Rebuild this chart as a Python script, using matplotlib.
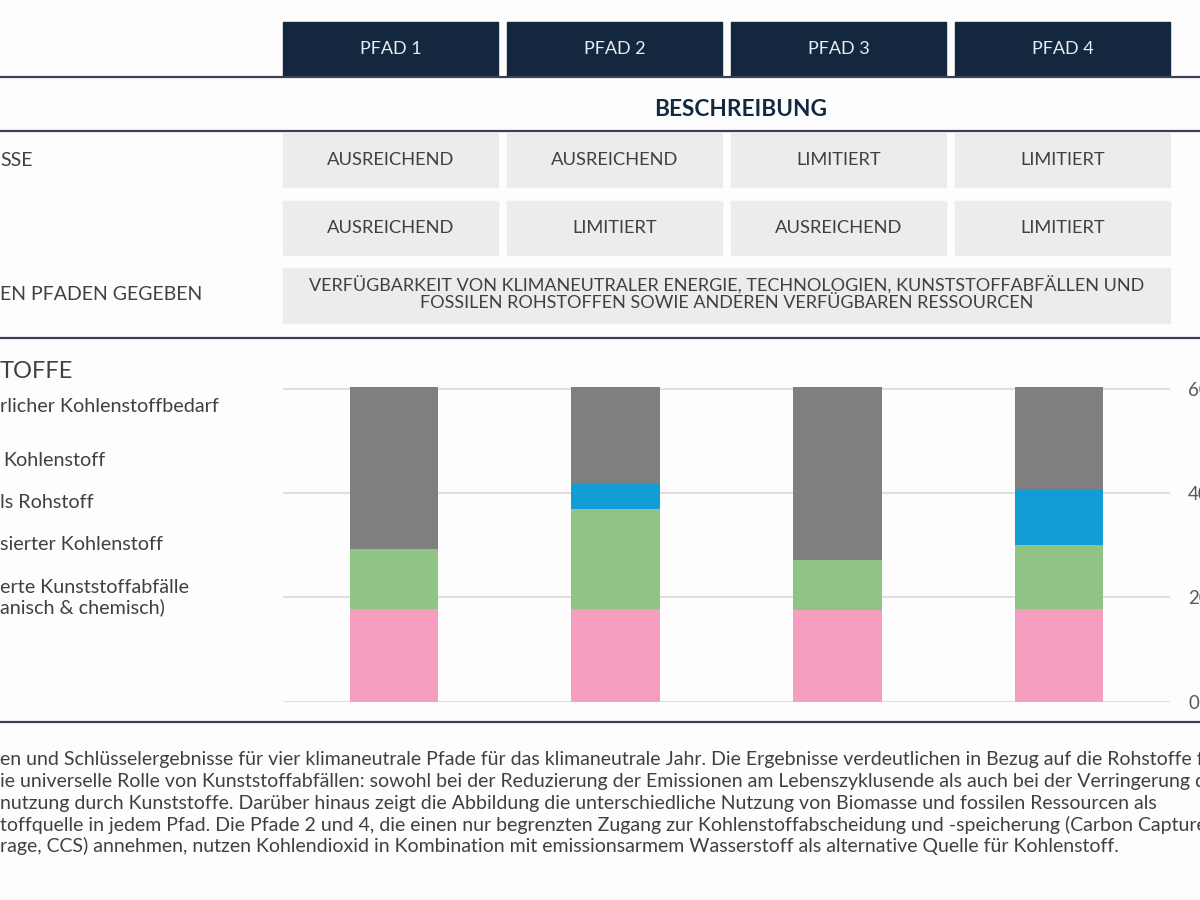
import matplotlib
matplotlib.use('Agg')
import matplotlib.pyplot as plt
from matplotlib.patches import Rectangle

plt.rcParams['font.family'] = ['Lato', 'DejaVu Sans']

# daten
pfade = ['PFAD 1', 'PFAD 2', 'PFAD 3', 'PFAD 4']
zeile1 = ['AUSREICHEND', 'AUSREICHEND', 'LIMITIERT', 'LIMITIERT']
zeile2 = ['AUSREICHEND', 'LIMITIERT', 'AUSREICHEND', 'LIMITIERT']
zeile3 = 'VERFÜGBARKEIT VON KLIMANEUTRALER ENERGIE, TECHNOLOGIEN, KUNSTSTOFFABFÄLLEN UND\nFOSSILEN ROHSTOFFEN SOWIE ANDEREN VERFÜGBAREN RESSOURCEN'
links_oben = ['SSE', '', 'EN PFADEN GEGEBEN']
links_chart = ['rlicher Kohlenstoffbedarf', 'Kohlenstoff', 'ls Rohstoff',
               'sierter Kohlenstoff', 'erte Kunststoffabfälle\nanisch & chemisch)']
rezykliert = [17.7, 17.85, 17.6, 17.85]
biomasse = [11.6, 19.15, 9.5, 12.25]
co2 = [0, 4.8, 0, 10.7]
fossil = [31.1, 18.6, 33.3, 19.6]
yticks = [0, 20, 40, 60]
absatz = [
    'en und Schlüsselergebnisse für vier klimaneutrale Pfade für das klimaneutrale Jahr. Die Ergebnisse verdeutlichen in Bezug auf die Rohstoffe für',
    'ie universelle Rolle von Kunststoffabfällen: sowohl bei der Reduzierung der Emissionen am Lebenszyklusende als auch bei der Verringerung der',
    'nutzung durch Kunststoffe. Darüber hinaus zeigt die Abbildung die unterschiedliche Nutzung von Biomasse und fossilen Ressourcen als',
    'toffquelle in jedem Pfad. Die Pfade 2 und 4, die einen nur begrenzten Zugang zur Kohlenstoffabscheidung und -speicherung (Carbon Capture',
    'rage, CCS) annehmen, nutzen Kohlendioxid in Kombination mit emissionsarmem Wasserstoff als alternative Quelle für Kohlenstoff.',
]

navy = '#13283f'
hellgrau = '#ececec'
textfarbe = '#404040'
linie = '#3a4350'

fig = plt.figure(figsize=(12, 9), dpi=100, facecolor='#fdfdfd')
bg = fig.add_axes([0, 0, 1, 1])
bg.set_xlim(0, 1200)
bg.set_ylim(900, 0)
bg.axis('off')

spalten_x = [283, 507, 731, 955]
breite = 215

# kopfzeile
for x, name in zip(spalten_x, pfade):
    bg.add_patch(Rectangle((x, 22), breite, 54, color=navy))
    bg.text(x + breite / 2, 49, name, color='#e8ecf0', fontsize=13, ha='center', va='center')

for y in [77, 131, 338, 722]:
    bg.plot([0, 1200], [y, y], color=linie, lw=1.6)

bg.text(741, 109, 'BESCHREIBUNG', color=navy, fontsize=16.3, fontweight='bold',
        ha='center', va='center')

# beschreibungszeilen
for zeile, y in [(zeile1, 133), (zeile2, 201)]:
    for x, t in zip(spalten_x, zeile):
        bg.add_patch(Rectangle((x, y), breite, 54, color=hellgrau))
        bg.text(x + breite / 2, y + 27, t, color=textfarbe, fontsize=13.2, ha='center', va='center')

bg.add_patch(Rectangle((283, 268), 1170 - 283, 55, color=hellgrau))
bg.text(727, 294, zeile3, color=textfarbe, fontsize=13, ha='center', va='center',
        linespacing=1.05)

for t, y in zip(links_oben, [160, 227, 295]):
    bg.text(0, y, t, color=textfarbe, fontsize=14, ha='left', va='center')

bg.text(0, 372, 'TOFFE', color=textfarbe, fontsize=17, ha='left', va='center')
for t, y in zip(links_chart, [406, 461, 502, 545, 598]):
    x = 3 if t == 'Kohlenstoff' else 0
    bg.text(x, y, t, color=textfarbe, fontsize=14.2, ha='left', va='center', linespacing=1.15)

for i, t in enumerate(absatz):
    bg.text(0, 760 + i * 21.5, t, color=textfarbe, fontsize=14, ha='left', va='center')

# gestapeltes balkendiagramm
px_pro_einheit = (701.7 - 389) / 60
ymax = 62
hoehe_px = ymax * px_pro_einheit
ax = fig.add_axes([283 / 1200, (900 - 701.7) / 900, 887 / 1200, hoehe_px / 900])
ax.set_facecolor('none')
pos = range(len(pfade))
unten = [0] * 4
for werte, farbe in [(rezykliert, '#f59ec0'), (biomasse, '#8fc485'),
                     (co2, '#129dd4'), (fossil, '#7f7f7f')]:
    ax.bar(pos, werte, 0.4, bottom=unten, color=farbe, zorder=3)
    unten = [a + b for a, b in zip(unten, werte)]

ax.set_xlim(-0.5, 3.5)
ax.set_ylim(0, ymax)
ax.set_yticks(yticks)
ax.yaxis.tick_right()
ax.tick_params(axis='y', length=0, pad=13, labelsize=13.5, labelcolor='#595959')
ax.set_xticks([])
ax.grid(axis='y', color='#d9d9d9', lw=1.2, zorder=0)
for s in ax.spines.values():
    s.set_visible(False)

fig.savefig('out.png', dpi=100, facecolor=fig.get_facecolor())
